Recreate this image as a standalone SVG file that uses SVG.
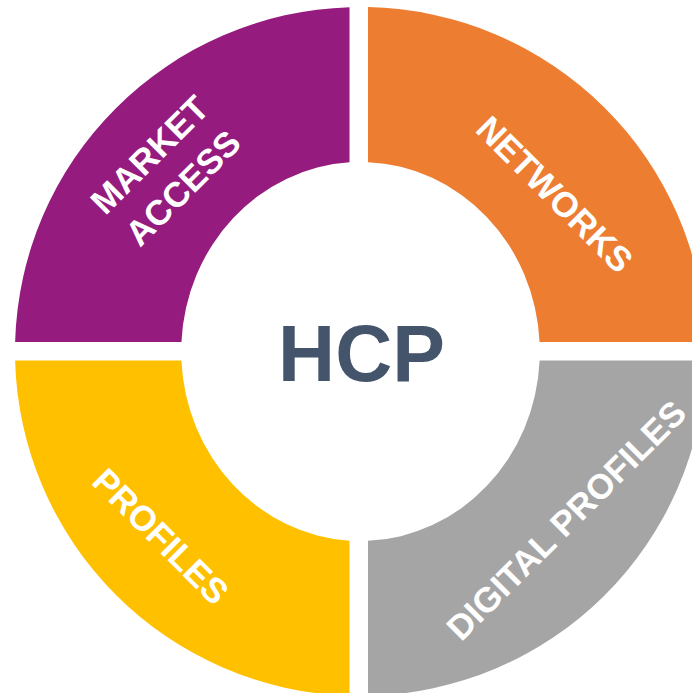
<svg xmlns="http://www.w3.org/2000/svg" width="692" height="693" viewBox="0 0 692 693">
  <style>
    .lbl { font-family: "Liberation Sans", Arial, sans-serif; font-weight: bold; font-size: 35px; fill: #ffffff; text-anchor: middle; }
    .hcp { font-family: "Liberation Sans", Arial, sans-serif; font-weight: bold; font-size: 79px; fill: #44546A; text-anchor: middle; }
  </style>
  <rect width="692" height="693" fill="#ffffff"/>
  <g id="market-access">
    <path d="M349.5,7.17 A345.5,344.5 0 0 0 15.13,342 L181.43,342 A179.3,189.5 0 0 1 349.5,162.36 Z" fill="#951B7F"/>
    <g transform="translate(166,171) rotate(-45)">
      <text class="lbl" x="0" y="-11">MARKET</text>
      <text class="lbl" x="0" y="36">ACCESS</text>
    </g>
  </g>
  <g id="networks">
    <path d="M368,7.08 A345.5,344.5 0 0 1 705.87,342 L539.57,342 A179.3,189.5 0 0 0 368,162.17 Z" fill="#ED7D31"/>
    <text class="lbl" transform="translate(555,194) rotate(45)" x="0" y="12.5">NETWORKS</text>
  </g>
  <g id="digital-profiles">
    <path d="M539.6,360.5 L705.88,360.5 A345.5,344.5 0 0 1 368,695.92 L368,540.83 A179.3,189.5 0 0 0 539.6,360.5 Z" fill="#A5A5A5"/>
    <text class="lbl" transform="translate(566,520) rotate(-45)" x="0" y="12.5">DIGITAL PROFILES</text>
  </g>
  <g id="profiles">
    <path d="M181.4,360.5 L15.12,360.5 A345.5,344.5 0 0 0 349.5,695.83 L349.5,540.64 A179.3,189.5 0 0 1 181.4,360.5 Z" fill="#FFC000"/>
    <text class="lbl" transform="translate(161,536) rotate(45)" x="0" y="12.5">PROFILES</text>
  </g>
  <g id="hcp">
    <text class="hcp" x="361.5" y="380.7">HCP</text>
  </g>
  <g id="connectors"></g>
</svg>
